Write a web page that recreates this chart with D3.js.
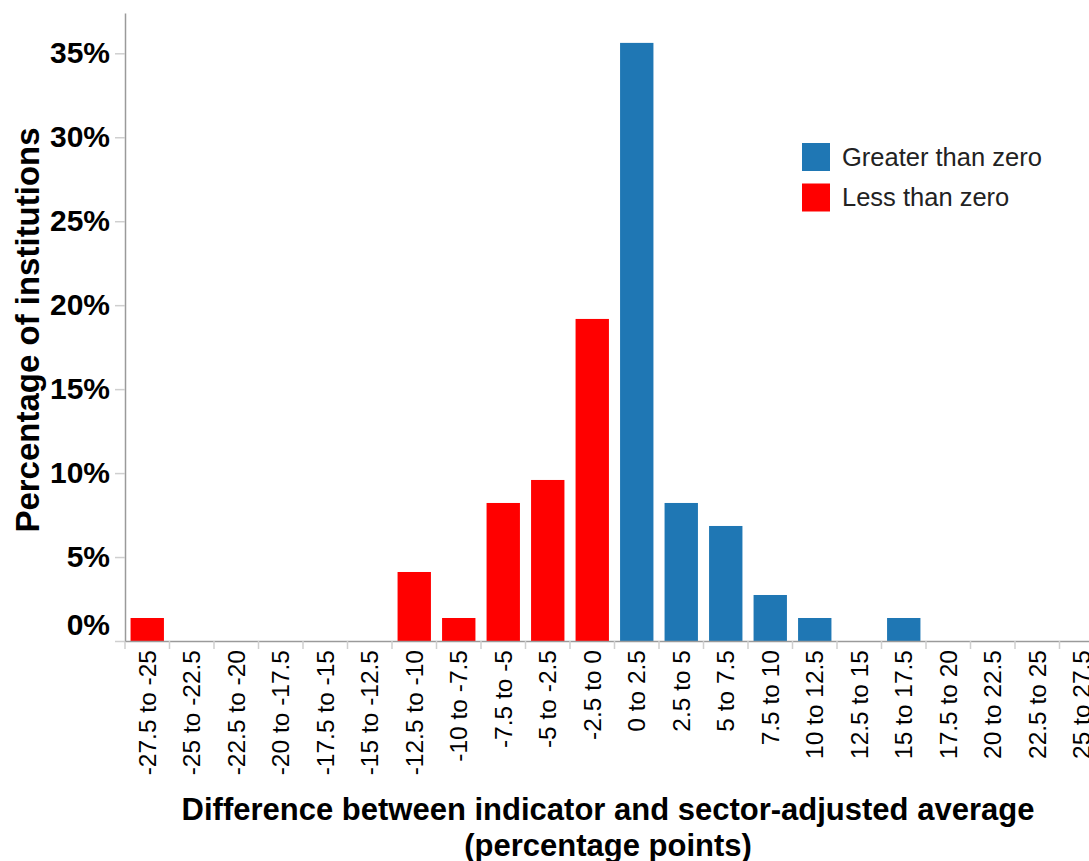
<!DOCTYPE html>
<html>
<head>
<meta charset="utf-8">
<script src="https://cdn.jsdelivr.net/npm/d3@7"></script>
<style>
body { margin: 0; background: #fff; }
svg { font-family: "Liberation Sans", Arial, sans-serif; display: block; }
.y.axis .domain { stroke: #9a9a9a; stroke-width: 1.5; }
.y.axis .tick line { stroke: #cfcfcf; stroke-width: 1.5; }
.y.axis .tick text { font-size: 30px; font-weight: bold; fill: #000; }
.x.axis .domain { stroke: #9a9a9a; stroke-width: 1.5; }
.x.axis .tick text { font-size: 24.5px; fill: #000; }
.bound { stroke: #cfcfcf; stroke-width: 1.5; }
.axtitle { font-weight: bold; fill: #000; }
.legend text { font-size: 25.5px; fill: #222; }
</style>
</head>
<body>
<script>
// Formats
var margin = {top: 13, right: 0, bottom: 220, left: 125},
    w = 979,
    h = 628;

var width = 1089, height = 861;

// Data: share of institutions per bin (%)
var bins = ["-27.5 to -25", "-25 to -22.5", "-22.5 to -20", "-20 to -17.5", "-17.5 to -15",
  "-15 to -12.5", "-12.5 to -10", "-10 to -7.5", "-7.5 to -5", "-5 to -2.5", "-2.5 to 0",
  "0 to 2.5", "2.5 to 5", "5 to 7.5", "7.5 to 10", "10 to 12.5", "12.5 to 15",
  "15 to 17.5", "17.5 to 20", "20 to 22.5", "22.5 to 25", "25 to 27.5"];
var shares = [1.37, 0, 0, 0, 0, 0, 4.11, 1.37, 8.22, 9.59, 19.18,
  35.62, 8.22, 6.85, 2.74, 1.37, 0, 1.37, 0, 0, 0, 0];
var groupNames = ["Greater than zero", "Less than zero"];
var groupColours = ["#1f77b4", "#ff0000"];
var yTicks = [0, 5, 10, 15, 20, 25, 30, 35];

var data = bins.map(function(b, i) {
  return {bin: b, share: shares[i],
    group: parseFloat(b) < 0 ? groupNames[1] : groupNames[0]};
});

// Scales
var x = d3.scaleBand().domain(bins).range([0, w]).paddingInner(0.25).paddingOuter(0.125);
var y = d3.scaleLinear().domain([0, 37.4]).range([h, 0]);
var color = d3.scaleOrdinal().domain(groupNames).range(groupColours);

var svg = d3.select("body").append("svg")
  .attr("width", width)
  .attr("height", height);

var g = svg.append("g")
  .attr("transform", "translate(" + margin.left + "," + margin.top + ")");

// Bars
g.selectAll(".bar")
  .data(data)
  .enter().append("rect")
  .attr("class", "bar")
  .attr("x", function(d) { return x(d.bin); })
  .attr("width", x.bandwidth())
  .attr("y", function(d) { return y(d.share); })
  .attr("height", function(d) { return h - y(d.share); })
  .attr("fill", function(d) { return color(d.group); });

// X axis
var xAxis = d3.axisBottom(x).tickSize(0).tickSizeOuter(0);
var xg = g.append("g")
  .attr("class", "x axis")
  .attr("transform", "translate(0," + h + ")")
  .call(xAxis);
xg.selectAll(".tick text")
  .attr("transform", "rotate(-90)")
  .attr("text-anchor", "end")
  .attr("x", -9)
  .attr("y", 0)
  .attr("dy", "0.35em");

// tick marks at bin edges
var gap = (x.step() - x.bandwidth()) / 2;
var edges = bins.map(function(b) { return x(b) - gap; });
edges.push(x(bins[bins.length - 1]) + x.bandwidth() + gap);
xg.selectAll(".bound")
  .data(edges)
  .enter().append("line")
  .attr("class", "bound")
  .attr("x1", function(d) { return d; })
  .attr("x2", function(d) { return d; })
  .attr("y1", 0)
  .attr("y2", 8);

// Y axis
var yAxis = d3.axisLeft(y)
  .tickValues(yTicks)
  .tickSize(10)
  .tickSizeOuter(0)
  .tickPadding(5)
  .tickFormat(function(d) { return d + "%"; });
var yg = g.append("g")
  .attr("class", "y axis")
  .call(yAxis);
// lift the 0% label off the x axis
yg.selectAll(".tick text")
  .filter(function(d) { return d === 0; })
  .attr("y", -16);

// Axis titles
svg.append("text")
  .attr("class", "axtitle")
  .attr("transform", "translate(39,330) rotate(-90)")
  .attr("text-anchor", "middle")
  .style("font-size", "33px")
  .text("Percentage of institutions");

var xt = svg.append("text")
  .attr("class", "axtitle")
  .attr("text-anchor", "middle")
  .style("font-size", "31px");
xt.append("tspan").attr("x", 608).attr("y", 820)
  .text("Difference between indicator and sector-adjusted average");
xt.append("tspan").attr("x", 608).attr("y", 856)
  .text("(percentage points)");

// Legend
var legend = svg.append("g")
  .attr("class", "legend")
  .attr("transform", "translate(802,143)");
var items = legend.selectAll(".item")
  .data(groupNames)
  .enter().append("g")
  .attr("class", "item")
  .attr("transform", function(d, i) { return "translate(0," + (i * 40.5) + ")"; });
items.append("rect")
  .attr("width", 28)
  .attr("height", 28)
  .attr("fill", function(d) { return color(d); });
items.append("text")
  .attr("x", 40)
  .attr("y", 14)
  .attr("dy", "0.35em")
  .text(function(d) { return d; });
</script>
</body>
</html>
